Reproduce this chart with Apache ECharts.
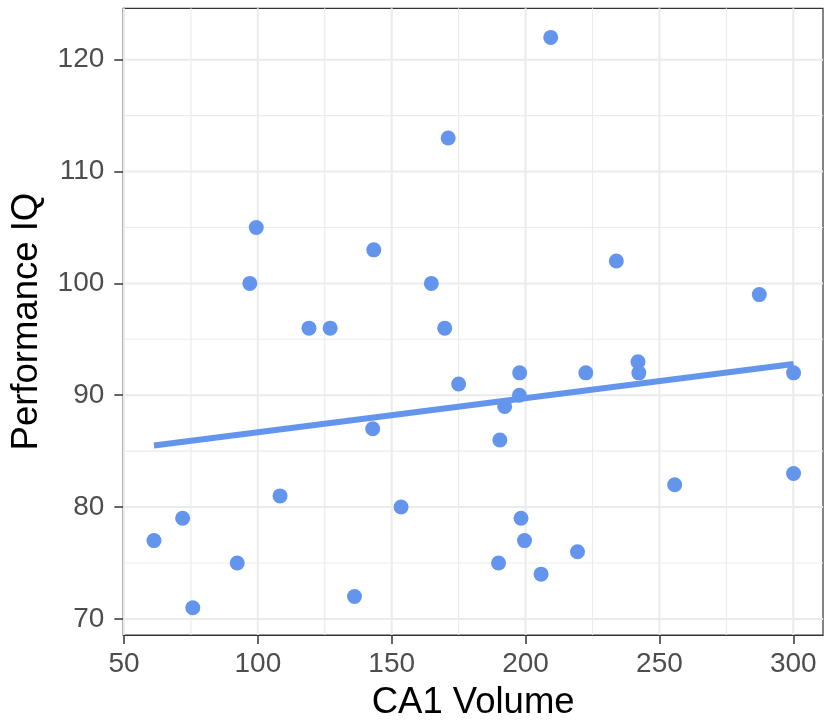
<!DOCTYPE html>
<html>
<head>
<meta charset="utf-8">
<script src="https://cdn.jsdelivr.net/npm/echarts@6/dist/echarts.min.js"></script>
<style>html,body{margin:0;padding:0;background:#fff;}#c{width:825px;height:726px;}</style>
</head>
<body>
<div id="c"></div>
<script>
const volume = [61.2, 71.9, 75.7, 92.3, 97.0, 99.4, 108.3, 119.1, 127.0, 136.1, 142.9, 143.3, 153.5, 164.8, 169.8, 171.1, 175.0, 189.9, 190.4, 192.2, 197.7, 197.8, 198.3, 199.6, 205.8, 209.4, 219.4, 222.5, 233.9, 242.0, 242.3, 255.7, 287.3, 300.1, 300.1];
const piq = [77, 79, 71, 75, 100, 105, 81, 96, 96, 72, 87, 103, 80, 100, 96, 113, 91, 75, 86, 89, 90, 92, 79, 77, 74, 122, 76, 92, 102, 93, 92, 82, 99, 92, 83];
const trendX = [61.2, 300.1];
const trendY = [85.5, 92.8];
const xTicks = [50, 100, 150, 200, 250, 300];
const yTicks = [70, 80, 90, 100, 110, 120];
const xMinor = [75, 125, 175, 225, 275];
const yMinor = [75, 85, 95, 105, 115];
const xRange = [49.74, 311.1];
const yRange = [68.56, 124.6];

const points = volume.map((v, i) => [v, piq[i]]);
const trend = trendX.map((v, i) => [v, trendY[i]]);

const gridCol = '#EBEBEB';
const gridSeries = [];
function vline(v, w) {
  gridSeries.push({type: 'line', data: [[v, yRange[0]], [v, yRange[1]]], symbol: 'none', silent: true, z: 1,
    lineStyle: {color: gridCol, width: w}});
}
function hline(v, w) {
  gridSeries.push({type: 'line', data: [[xRange[0], v], [xRange[1], v]], symbol: 'none', silent: true, z: 1,
    lineStyle: {color: gridCol, width: w}});
}
xMinor.forEach(v => vline(v, 1.1));
yMinor.forEach(v => hline(v, 1.1));
xTicks.forEach(v => vline(v, 2));
yTicks.forEach(v => hline(v, 2));

const font = 'Liberation Sans, Arial, Helvetica, sans-serif';
const chart = echarts.init(document.getElementById('c'));
chart.setOption({
  animation: false,
  backgroundColor: '#fff',
  grid: {
    left: 123.3, right: 2, top: 8.3, bottom: 87.7,
    show: true, borderColor: '#333333', borderWidth: 1.2,
    backgroundColor: 'transparent', containLabel: false
  },
  xAxis: {
    type: 'value', min: xRange[0], max: xRange[1],
    splitLine: {show: false},
    axisLine: {show: true, lineStyle: {color: '#333333', width: 1.2}},
    axisTick: {show: true, customValues: xTicks, length: 9, lineStyle: {color: '#333333', width: 1.5}},
    axisLabel: {customValues: xTicks, color: '#4D4D4D', fontSize: 28, fontFamily: font, margin: 15},
    name: 'CA1 Volume', nameLocation: 'middle', nameGap: 49,
    nameTextStyle: {color: '#000', fontSize: 36.5, fontFamily: font}
  },
  yAxis: {
    type: 'value', min: yRange[0], max: yRange[1],
    splitLine: {show: false},
    axisLine: {show: true, lineStyle: {color: '#333333', width: 1.2}},
    axisTick: {show: true, customValues: yTicks, length: 9, lineStyle: {color: '#333333', width: 1.5}},
    axisLabel: {customValues: yTicks, color: '#4D4D4D', fontSize: 28, fontFamily: font, margin: 19},
    name: 'Performance IQ', nameLocation: 'middle', nameGap: 78,
    nameTextStyle: {color: '#000', fontSize: 36.5, fontFamily: font}
  },
  series: gridSeries.concat([
    {
      type: 'scatter', data: points, symbolSize: 15,
      itemStyle: {color: '#6495ED', opacity: 1}, z: 3
    },
    {
      type: 'line', data: trend, showSymbol: false, symbol: 'none',
      lineStyle: {color: '#6495ED', width: 6}, z: 4
    }
  ])
});
</script>
</body>
</html>
